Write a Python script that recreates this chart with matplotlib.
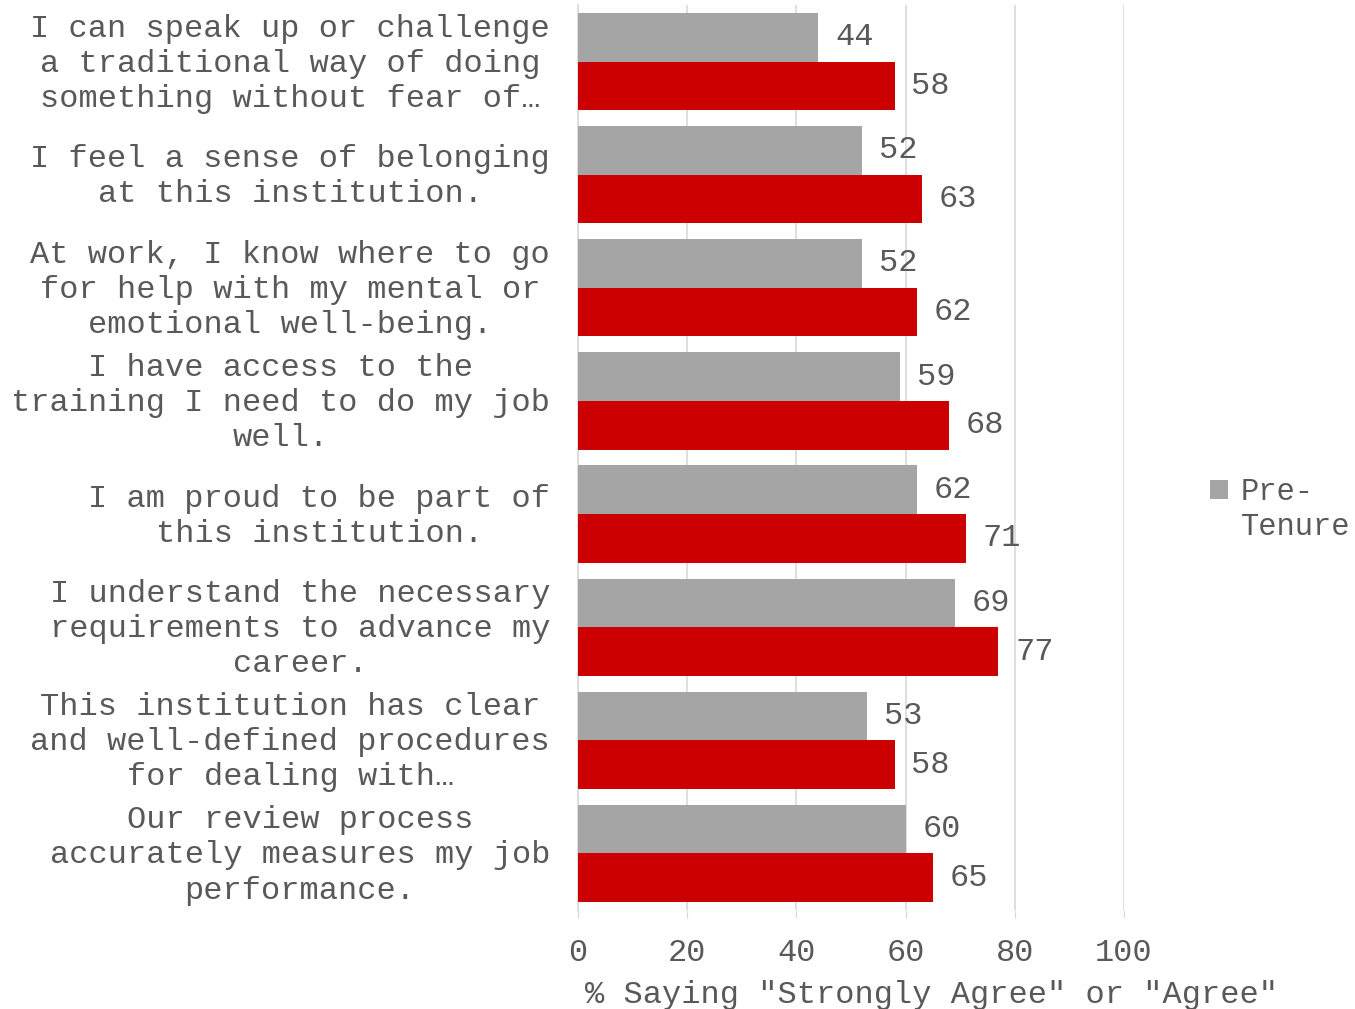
"""Grouped horizontal bars: agreement by tenure status."""
import numpy as np
import matplotlib
matplotlib.use("Agg")
import matplotlib.pyplot as plt
from matplotlib.transforms import ScaledTranslation

statements = [
    "I can speak up or challenge\na traditional way of doing\nsomething without fear of…",
    "I feel a sense of belonging\nat this institution.",
    "At work, I know where to go\nfor help with my mental or\nemotional well-being.",
    "I have access to the\ntraining I need to do my job\nwell.",
    "I am proud to be part of\nthis institution.",
    "I understand the necessary\nrequirements to advance my\ncareer.",
    "This institution has clear\nand well-defined procedures\nfor dealing with…",
    "Our review process\naccurately measures my job\nperformance.",
]
pre_tenure = [44, 52, 52, 59, 62, 69, 53, 60]
tenured = [58, 63, 62, 68, 71, 77, 58, 65]
x_ticks = [0, 20, 40, 60, 80, 100]

FONT = "Liberation Mono"
FS = 23
TEXT = "#595959"
GRAY = "#A5A5A5"
RED = "#CC0000"

plt.rcParams["font.family"] = [FONT, "DejaVu Sans"]

fig = plt.figure(figsize=(13.55, 10.09), dpi=100)
ax = fig.add_axes([578 / 1355, 1 - 910 / 1009, (1124 - 578) / 1355, 905 / 1009])

n = len(statements)
y = np.arange(n)
h = 0.43
b1 = ax.barh(y - h / 2, pre_tenure, height=h, color=GRAY, label="Pre-", zorder=3)
b2 = ax.barh(y + h / 2, tenured, height=h, color=RED, label="Tenured", zorder=3)
for bars in (b1, b2):
    ax.bar_label(bars, padding=12, fontsize=FS, color=TEXT)

ax.set_ylim(n - 0.5, -0.5)
ax.set_xlim(0, 100)
ax.set_yticks(y)
ax.set_yticklabels(statements, fontsize=FS, color=TEXT, linespacing=1.22,
                   multialignment="center")
ax.tick_params(axis="y", length=0, pad=20)
# nudge the wrapped category labels up a little to sit centred on each pair
shift = ScaledTranslation(0, 4 / 100, fig.dpi_scale_trans)
for lab in ax.get_yticklabels():
    lab.set_transform(lab.get_transform() + shift)
ax.set_xticks(x_ticks)
ax.tick_params(axis="x", length=6, color="#D9D9D9", labelsize=FS, labelcolor=TEXT, pad=14)
ax.xaxis.grid(True, color="#D9D9D9", linewidth=1.2, zorder=0)
ax.set_xlabel('% Saying "Strongly Agree" or "Agree"', fontsize=FS, color=TEXT, va="center")
ax.xaxis.set_label_coords(0.647, -0.094)
for side in ("top", "right", "bottom"):
    ax.spines[side].set_visible(False)
ax.spines["left"].set_color("#D9D9D9")
ax.spines["left"].set_linewidth(1.2)

# legend shows only the pre-tenure series; its label wraps onto a second line
LFS = 22
leg = fig.legend(handles=[b1], loc="center left",
                 bbox_to_anchor=(1210 / 1355, 1 - 492 / 1009),
                 frameon=False, fontsize=LFS, labelcolor=TEXT, handlelength=0.6,
                 handleheight=0.6, handletextpad=0.4, borderaxespad=0, borderpad=0)
fig.canvas.draw()
tb = leg.get_texts()[0].get_window_extent()
fig.text(tb.x0 / fig.bbox.width, 1 - 527 / 1009, "Tenure", fontsize=LFS, color=TEXT,
         ha="left", va="center")

fig.savefig("out.png", dpi=100)
